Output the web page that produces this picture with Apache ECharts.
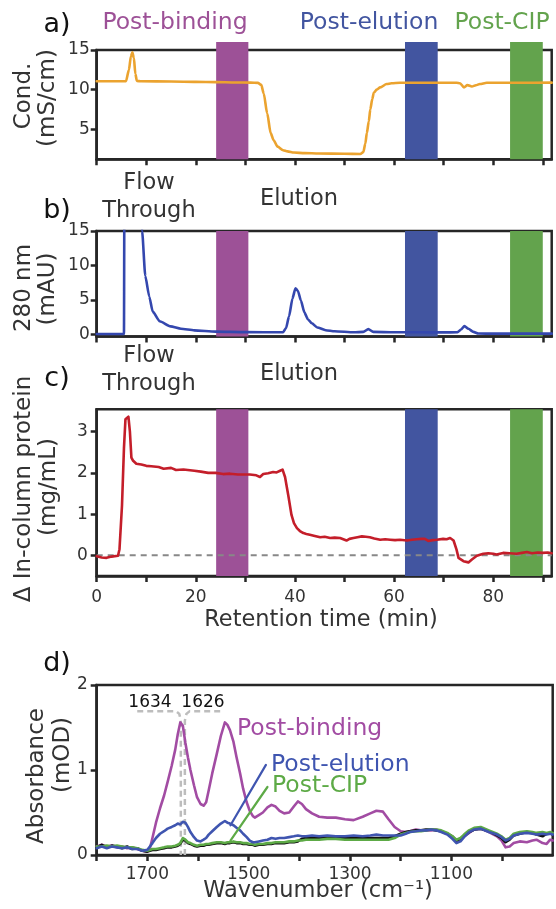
<!DOCTYPE html>
<html>
<head>
<meta charset="utf-8">
<script src="https://cdn.jsdelivr.net/npm/echarts@6/dist/echarts.min.js"></script>
<style>
  html, body { margin: 0; padding: 0; background: #fff; }
  #chart { width: 556px; height: 909px; }
</style>
</head>
<body>
<div id="chart"></div>
<script>
// ---------- a) conductivity trace ----------
const condTime = [0, 5.9, 6.5, 6.9, 7.2, 7.5, 7.8, 8.1, 9, 15, 20, 24, 28, 31, 32.5, 33.2, 33.7, 34.4, 35.1, 35.7,
  36.5, 37.6, 38.5, 39.8, 42, 44.8, 50, 53.2, 53.8, 54.2, 54.5, 54.9, 55.2, 55.6, 55.9, 56.5, 57.2, 58.5, 59.5,
  61.2, 65, 72.6, 73.3, 74.1, 74.8, 75.7, 76.5, 77.3, 78.7, 85, 91.8];
const condValue = [11.05, 11.05, 12.5, 14.2, 14.7, 14.0, 12.0, 11.1, 11.05, 11.02, 10.98, 10.95, 10.9, 10.88, 10.85,
  10.6, 9.5, 7.0, 4.5, 3.6, 2.8, 2.35, 2.2, 2.05, 1.98, 1.93, 1.9, 1.87, 2.1, 3.2, 4.5, 6.0, 7.5, 8.8, 9.6, 10.0,
  10.28, 10.7, 10.8, 10.86, 10.87, 10.86, 10.8, 10.28, 10.57, 10.4, 10.55, 10.7, 10.86, 10.87, 10.88];

// ---------- b) UV 280 nm trace ----------
const uvTime = [0, 5.5, 5.65, 6.0, 7.2, 8.4, 9.16, 9.8, 10.6, 11.3, 12.7, 14.9, 17, 19.7, 24, 30, 37.6, 38.2,
  38.8, 39.5, 40.1, 40.6, 41.2, 41.9, 42.6, 43.4, 44.5, 46.2, 48, 51.9, 53.8, 54.8, 55.8, 60, 65, 70, 72.8, 73.5,
  74.2, 75, 76, 77, 80, 91.8];
const uvValue = [0.05, 0.05, 40, 90, 60, 25, 15, 8.5, 5.5, 3.3, 1.9, 1.15, 0.8, 0.58, 0.4, 0.32, 0.3, 0.9, 2.6,
  5.2, 6.7, 6.3, 4.9, 3.2, 2.2, 1.6, 1.0, 0.6, 0.45, 0.3, 0.35, 0.75, 0.35, 0.3, 0.3, 0.28, 0.3, 0.7, 1.2, 0.8,
  0.35, 0.12, 0.1, 0.1];

// ---------- c) change in in-column protein ----------
const protTime = [0, 1, 2, 3, 4.3, 4.6, 5.1, 5.5, 5.8, 6.2, 6.4, 6.7, 7.0, 7.3, 8, 9, 10, 11, 12.5, 13.5, 15, 16,
  17.5, 19.7, 21, 22.5, 24, 25.5, 26.9, 28.5, 30.9, 32.2, 32.95, 33.6, 34.6, 35.6, 36.3, 37.0, 37.5, 38.0, 38.7,
  39.3, 39.8, 40.4, 41.0, 41.7, 42.3, 43.0, 44.0, 45.1, 46.0, 47.1, 48.0, 49.1, 50.4, 51.0, 51.8, 52.6, 53.5,
  54.3, 55.1, 56.0, 57.2, 58.2, 59.2, 60.2, 61.2, 62.6, 63.6, 64.6, 65.5, 66.2, 66.9, 67.8, 68.6, 69.9, 70.6,
  71.3, 72.0, 72.6, 73.0, 74.0, 75.0, 75.7, 76.7, 78.0, 79.0, 80.0, 80.7, 82.0, 83.3, 84.7, 85.8, 86.8, 87.8,
  89.0, 90.0, 91.0, 91.8];
const protValue = [-0.02, -0.05, -0.06, -0.03, -0.01, 0.15, 1.2, 2.6, 3.3, 3.32, 3.36, 3.0, 2.37, 2.3, 2.22, 2.2,
  2.17, 2.16, 2.14, 2.1, 2.12, 2.07, 2.08, 2.05, 2.03, 2.0, 2.0, 1.97, 1.98, 1.96, 1.96, 1.94, 1.9, 1.97, 1.99,
  2.02, 2.01, 2.05, 2.08, 1.9, 1.42, 0.98, 0.78, 0.66, 0.59, 0.54, 0.52, 0.5, 0.47, 0.44, 0.45, 0.42, 0.43, 0.42,
  0.36, 0.4, 0.42, 0.44, 0.46, 0.45, 0.44, 0.41, 0.38, 0.39, 0.38, 0.37, 0.38, 0.36, 0.38, 0.39, 0.4, 0.4, 0.35,
  0.37, 0.38, 0.4, 0.39, 0.42, 0.36, 0.14, -0.06, -0.14, -0.17, -0.1, -0.01, 0.04, 0.05, 0.04, 0.02, 0.06, 0.05,
  0.04, 0.06, 0.08, 0.05, 0.07, 0.06, 0.07, 0.05];

// sampling windows (min)
const windowStart = [24.1, 62.2, 83.4];
const windowEnd = [30.6, 68.8, 90.0];
const windowNames = ['Post-binding', 'Post-elution', 'Post-CIP'];

// ---------- d) IR absorbance spectra ----------
const wavenumber = [1800, 1790, 1780, 1770, 1760, 1750, 1740, 1730, 1720, 1710, 1700, 1695, 1690, 1683, 1675, 1667,
  1660, 1652, 1645, 1640, 1635, 1630, 1625, 1620, 1615, 1608, 1602, 1595, 1589, 1584, 1579, 1572, 1563, 1555,
  1547, 1542, 1537, 1530, 1524, 1517, 1511, 1504, 1498, 1492, 1488, 1480, 1472, 1463, 1455, 1447, 1439, 1430,
  1420, 1411, 1403, 1395, 1387, 1375, 1361, 1345, 1328, 1310, 1293, 1275, 1260, 1248, 1235, 1224, 1212, 1200,
  1190, 1182, 1170, 1160, 1150, 1140, 1130, 1120, 1108, 1098, 1090, 1082, 1075, 1065, 1055, 1042, 1026, 1010,
  1001, 993, 985, 977, 965, 951, 940, 932, 920, 912, 905, 900];
const absBinding = [0.1, 0.12, 0.1, 0.11, 0.09, 0.1, 0.08, 0.09, 0.07, 0.05, 0.04, 0.08, 0.2, 0.38, 0.55, 0.7, 0.86,
  1.05, 1.24, 1.42, 1.56, 1.52, 1.32, 1.15, 1.0, 0.82, 0.68, 0.6, 0.58, 0.62, 0.76, 0.96, 1.19, 1.4, 1.56, 1.53,
  1.47, 1.33, 1.15, 0.96, 0.78, 0.62, 0.52, 0.46, 0.44, 0.47, 0.5, 0.56, 0.59, 0.57, 0.52, 0.49, 0.5, 0.57, 0.63,
  0.6, 0.54, 0.49, 0.45, 0.44, 0.44, 0.42, 0.41, 0.45, 0.49, 0.52, 0.51, 0.42, 0.33, 0.28, 0.27, 0.28, 0.3, 0.29,
  0.29, 0.29, 0.3, 0.28, 0.25, 0.21, 0.16, 0.18, 0.22, 0.26, 0.3, 0.31, 0.27, 0.22, 0.17, 0.09, 0.1, 0.14, 0.16,
  0.15, 0.17, 0.18, 0.14, 0.13, 0.18, 0.17];
const absElution = [0.08, 0.1, 0.08, 0.1, 0.09, 0.08, 0.09, 0.07, 0.07, 0.05, 0.06, 0.1, 0.14, 0.2, 0.25, 0.28,
  0.31, 0.33, 0.35, 0.37, 0.36, 0.39, 0.38, 0.33, 0.27, 0.21, 0.17, 0.16, 0.18, 0.2, 0.24, 0.28, 0.33, 0.37, 0.4,
  0.38, 0.37, 0.35, 0.32, 0.29, 0.25, 0.21, 0.17, 0.15, 0.15, 0.16, 0.17, 0.18, 0.2, 0.19, 0.2, 0.2, 0.21, 0.22,
  0.23, 0.22, 0.22, 0.23, 0.22, 0.23, 0.22, 0.22, 0.23, 0.22, 0.23, 0.24, 0.23, 0.23, 0.23, 0.23, 0.25, 0.27,
  0.28, 0.29, 0.29, 0.3, 0.29, 0.27, 0.24, 0.19, 0.14, 0.16, 0.21, 0.27, 0.3, 0.31, 0.27, 0.24, 0.21, 0.17, 0.19,
  0.23, 0.25, 0.26, 0.25, 0.24, 0.25, 0.24, 0.25, 0.24];
const absCIP = [0.1, 0.1, 0.11, 0.1, 0.11, 0.1, 0.09, 0.09, 0.08, 0.06, 0.05, 0.06, 0.07, 0.07, 0.08, 0.09, 0.1,
  0.1, 0.11, 0.12, 0.14, 0.2, 0.18, 0.15, 0.14, 0.12, 0.11, 0.12, 0.12, 0.13, 0.13, 0.14, 0.15, 0.15, 0.14, 0.15,
  0.15, 0.16, 0.15, 0.15, 0.14, 0.14, 0.13, 0.13, 0.12, 0.13, 0.13, 0.14, 0.14, 0.15, 0.15, 0.15, 0.16, 0.16,
  0.17, 0.17, 0.18, 0.18, 0.18, 0.19, 0.19, 0.18, 0.18, 0.18, 0.18, 0.18, 0.18, 0.18, 0.2, 0.24, 0.26, 0.27, 0.28,
  0.28, 0.29, 0.3, 0.3, 0.29, 0.26, 0.22, 0.18, 0.2, 0.24, 0.29, 0.32, 0.33, 0.29, 0.25, 0.22, 0.18, 0.2, 0.25,
  0.27, 0.28, 0.27, 0.26, 0.27, 0.26, 0.27, 0.26];
const absReference = [0.09, 0.12, 0.09, 0.11, 0.1, 0.08, 0.1, 0.07, 0.08, 0.05, 0.04, 0.05, 0.06, 0.06, 0.07, 0.08,
  0.09, 0.09, 0.1, 0.11, 0.13, 0.18, 0.17, 0.14, 0.13, 0.11, 0.1, 0.11, 0.11, 0.12, 0.12, 0.13, 0.14, 0.14, 0.13,
  0.14, 0.14, 0.15, 0.14, 0.14, 0.13, 0.13, 0.12, 0.12, 0.11, 0.12, 0.12, 0.13, 0.13, 0.14, 0.14, 0.14, 0.15,
  0.15, 0.16, 0.19, 0.2, 0.2, 0.2, 0.21, 0.21, 0.2, 0.2, 0.2, 0.2, 0.2, 0.2, 0.2, 0.22, 0.25, 0.27, 0.28, 0.29,
  0.29, 0.3, 0.3, 0.29, 0.28, 0.25, 0.22, 0.17, 0.19, 0.22, 0.27, 0.3, 0.31, 0.28, 0.23, 0.2, 0.15, 0.18, 0.23,
  0.25, 0.27, 0.26, 0.24, 0.22, 0.25, 0.26, 0.24];

// band assignment guides (wavenumber, absorbance)
const guide1634 = [[1720, 1.69], [1643, 1.69], [1637, 1.66], [1634, 1.58], [1634, 0]];
const guide1626 = [[1626, 0], [1626, 1.58], [1623, 1.66], [1617, 1.69], [1553, 1.69]];
const leaderElution = [[1536, 0.35], [1466, 1.06]];
const leaderCIP = [[1536, 0.17], [1463, 0.8]];

// axis ticks and labels
const timeTicks = [0, 10, 20, 30, 40, 50, 60, 70, 80, 90];
const timeLabels = [0, 20, 40, 60, 80];
const condTicks = [5, 10, 15];
const uvTicks = [0, 5, 10, 15];
const protTicks = [0, 1, 2, 3];
const wnTicks = [1000, 1100, 1200, 1300, 1400, 1500, 1600, 1700, 1800];
const wnLabels = [1100, 1300, 1500, 1700];
const absTicks = [0, 1, 2];

// ---------- styling ----------
const FONT = '"DejaVu Sans", "Liberation Sans", sans-serif';
const INK = '#262626';
const TXT = '#333333';
const C_BIND = '#9D5197', C_ELU = '#4255A0', C_CIP = '#63A34D';
const windowColors = [C_BIND, C_ELU, C_CIP];

const zip = (xs, ys) => xs.map((x, i) => [x, ys[i]]);

const PLOT_L = 96.7, PLOT_W = 455;
const grids = [
  { left: PLOT_L, top: 50, width: PLOT_W, height: 109.3 },
  { left: PLOT_L, top: 231, width: PLOT_W, height: 105.4 },
  { left: PLOT_L, top: 409.3, width: PLOT_W, height: 166.7 },
  { left: PLOT_L, top: 685, width: PLOT_W + 1, height: 170 }
].map(g => Object.assign({ show: true, borderColor: INK, borderWidth: 2.5, backgroundColor: 'transparent' }, g));

function axisBase(gridIndex, ticks, labels, margin, extra) {
  return Object.assign({
    type: 'value', gridIndex,
    axisLine: { show: true, onZero: false, lineStyle: { color: INK, width: 2.5 } },
    axisTick: { show: true, inside: false, length: 6, customValues: ticks, lineStyle: { color: INK, width: 2.5 } },
    axisLabel: labels ? {
      show: true, customValues: labels, fontFamily: FONT, fontSize: 17, color: TXT, margin,
      formatter: v => String(v)
    } : { show: false },
    splitLine: { show: false }
  }, extra);
}

const xAxes = [
  axisBase(0, timeTicks, null, 0, { min: 0, max: 91.8 }),
  axisBase(1, timeTicks, null, 0, { min: 0, max: 91.8 }),
  axisBase(2, timeTicks, timeLabels, 13, { min: 0, max: 91.8 }),
  axisBase(3, wnTicks, wnLabels, 11, { min: 900, max: 1800, inverse: true })
];
const yAxes = [
  axisBase(0, condTicks, condTicks, 7, { min: 1.2, max: 15 }),
  axisBase(1, uvTicks, uvTicks, 7, { min: -0.3, max: 15 }),
  axisBase(2, protTicks, protTicks, 9, { min: -0.5, max: 3.54 }),
  axisBase(3, absTicks, absTicks, 9, { min: 0, max: 2 })
];

// shaded sampling windows, drawn through the time axis of each panel
function windowSeries(axisIndex, overhang) {
  return {
    type: 'custom', xAxisIndex: axisIndex, yAxisIndex: axisIndex, clip: false, z: 3, silent: true,
    data: windowStart.map((s, i) => [s, windowEnd[i]]),
    encode: { x: [0, 1] },
    renderItem(params, api) {
      const cs = params.coordSys;
      const x0 = api.coord([api.value(0), 0])[0];
      const x1 = api.coord([api.value(1), 0])[0];
      return {
        type: 'rect',
        shape: { x: x0, y: cs.y - overhang, width: x1 - x0, height: cs.height + overhang },
        style: { fill: windowColors[params.dataIndex] }
      };
    }
  };
}

function trace(axisIndex, data, color, width, extra) {
  return Object.assign({
    type: 'line', xAxisIndex: axisIndex, yAxisIndex: axisIndex, data,
    showSymbol: false, symbol: 'none', silent: true, z: 5,
    lineStyle: { color, width, cap: 'round', join: 'round' }
  }, extra);
}

const series = [
  windowSeries(0, 8),
  windowSeries(1, 0),
  windowSeries(2, 0),
  trace(0, zip(condTime, condValue), '#EBA32F', 2.6, { smooth: 0.25, smoothMonotone: 'x' }),
  trace(1, zip(uvTime, uvValue), '#3447AE', 2.6, { smooth: 0.2, smoothMonotone: 'x' }),
  trace(2, [[0, 0], [91.8, 0]], '#888888', 2, { z: 4, lineStyle: { color: '#888888', width: 2, type: [6, 5] } }),
  trace(2, zip(protTime, protValue), '#C41E2A', 2.6),
  trace(3, guide1634, '#BDBDBD', 2.5, { z: 4, lineStyle: { color: '#BDBDBD', width: 2.5, type: [6, 4], join: 'round' } }),
  trace(3, guide1626, '#BDBDBD', 2.5, { z: 4, lineStyle: { color: '#BDBDBD', width: 2.5, type: [6, 4], join: 'round' } }),
  trace(3, zip(wavenumber, absBinding), '#A24CA3', 2.6),
  trace(3, zip(wavenumber, absReference), '#111111', 2.6),
  trace(3, zip(wavenumber, absCIP), '#5DAA46', 2.6),
  trace(3, zip(wavenumber, absElution), '#3F55B0', 2.6),
  trace(3, leaderElution, '#3F55B0', 2.2, { z: 6 }),
  trace(3, leaderCIP, '#5DAA46', 2.2, { z: 6 })
];

// ---------- text ----------
function label(x, y, text, size, fill, opts) {
  return Object.assign({
    type: 'text', x, y, silent: true, z: 50,
    style: { text, font: size + 'px ' + FONT, fill, align: 'center', verticalAlign: 'middle' }
  }, opts || {});
}
function leftLabel(x, y, text, size, fill) {
  return {
    type: 'text', x, y, silent: true, z: 50,
    style: { text, font: size + 'px ' + FONT, fill, align: 'left', verticalAlign: 'middle' }
  };
}
const ROT = { rotation: Math.PI / 2 };

const graphics = [
  // panel letters
  label(57, 25, 'a)', 27, '#111'),
  label(57, 211, 'b)', 27, '#111'),
  label(57, 379, 'c)', 27, '#111'),
  label(57, 664, 'd)', 27, '#111'),
  // window names
  label(175, 23, windowNames[0], 23.5, C_BIND),
  label(369, 23, windowNames[1], 23.5, C_ELU),
  label(502, 23, windowNames[2], 23.5, C_CIP),
  // phase labels
  label(149, 183, 'Flow', 22.5, TXT),
  label(149, 211, 'Through', 22.5, TXT),
  label(299, 199, 'Elution', 22.5, TXT),
  label(149, 356, 'Flow', 22.5, TXT),
  label(149, 384, 'Through', 22.5, TXT),
  label(299, 374, 'Elution', 22.5, TXT),
  // y-axis titles
  label(24, 96, 'Cond.', 23, TXT, ROT),
  label(48, 98, '(mS/cm)', 23, TXT, ROT),
  label(24, 288, '280 nm', 23, TXT, ROT),
  label(48, 289, '(mAU)', 23, TXT, ROT),
  label(24, 489, '\u0394 In-column protein', 23, TXT, ROT),
  label(49, 487, '(mg/mL)', 23, TXT, ROT),
  label(37, 776, 'Absorbance', 23, TXT, ROT),
  label(63, 755, '(mOD)', 23, TXT, ROT),
  // x-axis titles
  label(321, 620, 'Retention time (min)', 22.5, TXT),
  label(318, 891, 'Wavenumber (cm\u207B\u00B9)', 22.5, TXT),
  // spectrum annotations
  label(150, 703, '1634', 17, '#111'),
  label(203, 703, '1626', 17, '#111'),
  leftLabel(237, 729, windowNames[0], 23.5, '#A24CA3'),
  leftLabel(271, 765, windowNames[1], 23.5, '#3F55B0'),
  leftLabel(272, 786, windowNames[2], 23.5, '#5DAA46')
];

const chart = echarts.init(document.getElementById('chart'), null, { renderer: 'canvas' });
chart.setOption({
  animation: false,
  backgroundColor: '#ffffff',
  grid: grids,
  xAxis: xAxes,
  yAxis: yAxes,
  series,
  graphic: graphics
});
</script>
</body>
</html>
